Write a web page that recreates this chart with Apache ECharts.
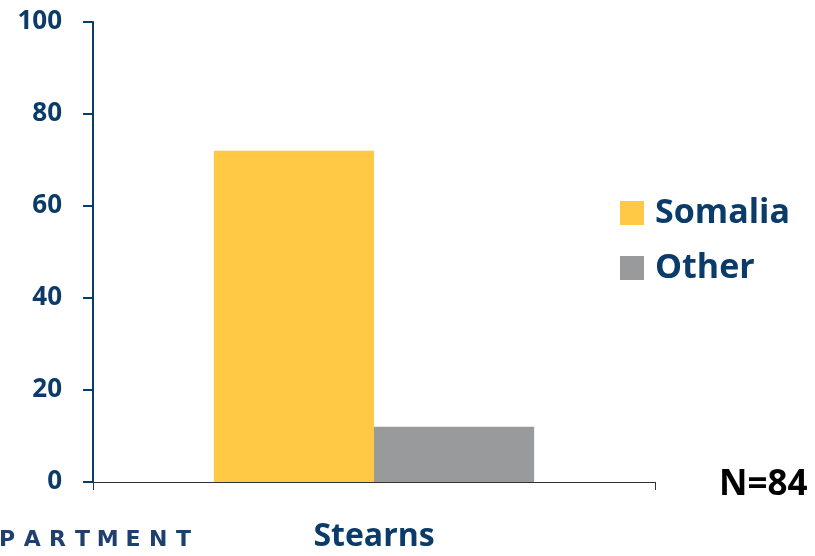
<!DOCTYPE html>
<html><head><meta charset="utf-8">
<script src="https://cdn.jsdelivr.net/npm/echarts@6/dist/echarts.min.js"></script>
<style>html,body{margin:0;padding:0;background:#fff}#c{width:815px;height:556px}</style>
</head><body><div id="c"></div>
<script>
const categories = ['Stearns'];
const seriesNames = ['Somalia', 'Other'];
const somaliaValues = [72];
const otherValues = [12];
const yTicks = [0, 20, 40, 60, 80, 100];
const noteText = 'N=84';
const logoText = 'PARTMENT';

const navy = '#0B3B69';
const logoLetters = logoText.split('').map((ch, i) => ({
  type: 'text', x: 7 + i * 25.2, y: 540,
  style: { text: ch, fill: '#1F3F6E', fontSize: 22, fontWeight: 'bold', fontFamily: 'DejaVu Sans', align: 'center', verticalAlign: 'middle' }
}));
const chart = echarts.init(document.getElementById('c'));
chart.setOption({
  animation: false,
  backgroundColor: '#fff',
  textStyle: { fontFamily: 'Open Sans' },
  grid: { left: 93, right: 160, top: 22, bottom: 74 },
  legend: {
    orient: 'vertical', left: 615, top: 190,
    itemWidth: 24, itemHeight: 24, itemGap: 19,
    icon: 'rect',
    data: seriesNames,
    textStyle: { color: navy, fontSize: 34, fontWeight: 'bold', fontFamily: 'Open Sans', lineHeight: 36, padding: [0, 0, 0, 6] }
  },
  xAxis: {
    type: 'category', data: categories,
    axisLine: { lineStyle: { color: '#333', width: 1 } },
    axisTick: { show: true, length: 8, lineStyle: { color: '#333' } },
    axisLabel: { color: navy, fontSize: 32, fontWeight: 'bold', fontFamily: 'Open Sans', margin: 39 }
  },
  yAxis: {
    type: 'value', min: yTicks[0], max: yTicks[yTicks.length - 1], interval: 20,
    splitLine: { show: false },
    axisLine: { show: true, lineStyle: { color: navy, width: 2 } },
    axisTick: { show: true, length: 10, lineStyle: { color: navy, width: 2 } },
    axisLabel: { color: navy, fontSize: 26, fontWeight: 'bold', fontFamily: 'Open Sans', margin: 31 }
  },
  series: [
    { name: seriesNames[0], type: 'bar', data: somaliaValues, barGap: '0%', barCategoryGap: '43%', itemStyle: { color: '#FFC845' } },
    { name: seriesNames[1], type: 'bar', data: otherValues, itemStyle: { color: '#999A9C' } }
  ],
  graphic: [
    { type: 'text', left: 719, top: 468, style: { text: noteText, fill: '#000', fontSize: 35, fontWeight: 'bold', fontFamily: 'Open Sans' } }
  ].concat(logoLetters)
});
</script></body></html>
